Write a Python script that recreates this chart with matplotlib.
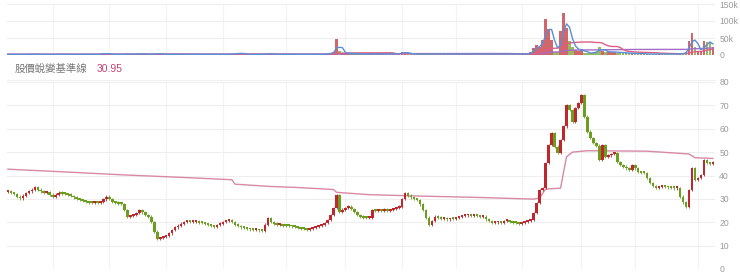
import numpy as np
import pandas as pd
import matplotlib
matplotlib.use("Agg")
import matplotlib.pyplot as plt

# closing prices, one candle per ~2 trading days
closes = [
    33.1, 32.6, 32.0, 31.0, 30.2, 31.4, 32.6, 33.2, 34.0, 35.2,
    34.0, 33.2, 32.4, 32.8, 31.8, 31.0, 31.8, 32.7, 32.2, 32.0,
    31.8, 31.2, 30.6, 30.0, 29.5, 29.2, 28.8, 28.4, 28.1, 28.6,
    28.3, 28.8, 29.8, 31.0, 30.0, 28.8, 28.4, 28.0, 27.8, 25.3,
    22.4, 22.8, 23.0, 24.0, 25.3, 24.2, 23.2, 22.4, 20.2, 16.0,
    12.7, 13.4, 13.8, 14.1, 15.2, 16.7, 17.8, 18.6, 19.4, 20.2,
    20.6, 20.0, 20.2, 20.4, 19.8, 19.6, 19.2, 18.8, 18.4, 18.1,
    18.8, 19.4, 20.0, 20.6, 21.0, 20.2, 19.0, 18.4, 17.8, 17.4,
    17.2, 16.9, 16.7, 16.8, 16.5, 16.3, 19.0, 21.7, 20.2, 19.4,
    18.8, 18.9, 18.6, 18.5, 18.4, 18.2, 17.9, 17.6, 17.3, 17.0,
    16.7, 17.1, 17.6, 18.0, 18.4, 18.8, 19.6, 21.0, 23.0, 26.0,
    31.5, 24.5, 25.4, 26.2, 26.7, 25.6, 24.4, 23.2, 22.4, 22.0,
    21.8, 22.0, 25.3, 25.0, 25.2, 24.8, 25.4, 25.0, 25.3, 25.8,
    26.2, 26.7, 30.0, 32.4, 31.4, 30.6, 30.0, 29.5, 27.6, 25.3,
    22.0, 18.8, 20.6, 22.4, 22.0, 21.6, 21.8, 21.2, 21.5, 21.3,
    21.8, 22.2, 22.6, 22.9, 23.1, 22.8, 23.0, 22.6, 22.3, 22.4,
    21.2, 20.4, 19.6, 19.9, 20.1, 19.8, 20.4, 20.6, 20.2, 19.8,
    19.6, 19.4, 19.6, 20.0, 20.4, 21.0, 24.0, 28.2, 33.8, 34.7,
    45.3, 53.0, 58.2, 52.4, 49.6, 55.2, 61.0, 70.0, 68.0, 63.0,
    68.9, 71.0, 74.5, 65.2, 58.8, 56.0, 54.0, 52.8, 46.5, 53.0,
    48.0, 48.6, 49.2, 49.6, 45.9, 44.6, 43.8, 43.0, 42.4, 44.5,
    43.0, 41.6, 41.2, 41.0, 38.8, 36.8, 35.6, 34.7, 35.0, 35.5,
    35.2, 34.9, 34.7, 34.5, 34.7, 31.0, 28.5, 26.7, 33.8, 43.0,
    38.1, 39.0, 40.2, 46.6, 45.3, 44.8, 45.5,
]

# volume in thousands of shares
volumes = [
    2, 2, 2, 1, 2, 2, 2, 2, 3, 2,
    2, 2, 2, 2, 1, 2, 2, 2, 2, 2,
    2, 2, 1, 2, 2, 2, 2, 2, 2, 2,
    2, 3, 5, 4, 2, 2, 2, 2, 2, 3,
    3, 2, 2, 3, 4, 3, 2, 2, 3, 4,
    4, 3, 2, 2, 2, 2, 2, 2, 2, 2,
    2, 2, 2, 2, 2, 2, 2, 2, 2, 2,
    2, 2, 2, 2, 3, 3, 4, 6, 4, 3,
    2, 2, 2, 2, 2, 2, 3, 4, 3, 2,
    2, 2, 2, 2, 2, 2, 2, 2, 2, 2,
    2, 2, 2, 2, 2, 2, 3, 4, 6, 10,
    46, 12, 6, 5, 5, 4, 4, 3, 3, 3,
    3, 3, 4, 3, 3, 3, 3, 3, 3, 3,
    3, 5, 9, 7, 4, 3, 3, 3, 3, 3,
    3, 4, 3, 3, 3, 3, 3, 3, 3, 3,
    3, 3, 3, 3, 3, 3, 3, 3, 3, 3,
    3, 3, 3, 3, 3, 3, 3, 3, 3, 3,
    3, 3, 3, 3, 4, 8, 20, 30, 25, 45,
    105, 75, 45, 10, 8, 70, 125, 80, 40, 25,
    15, 12, 18, 6, 5, 6, 9, 10, 25, 12,
    8, 9, 10, 8, 7, 8, 6, 6, 5, 5,
    4, 4, 4, 3, 3, 3, 3, 3, 3, 3,
    3, 3, 3, 3, 3, 3, 6, 10, 42, 65,
    25, 10, 12, 42, 38, 35, 25,
]

# price transformation base line (candle index, price)
base_idx = [0, 18, 38, 58, 75, 76, 88, 98, 109, 110, 121, 138, 158, 176,
            178, 180, 185, 187, 189, 194, 214, 228, 230, 236]
base_val = [42.7, 41.6, 40.3, 39.2, 38.2, 36.3, 35.3, 34.8, 34.0, 32.8, 31.8,
            31.2, 30.6, 29.9, 30.4, 34.2, 34.6, 48.0, 50.0, 50.6, 50.4, 49.2,
            47.6, 47.3]

# month boundaries (candle index)
month_idx = [15, 34, 53, 72, 93, 113, 132, 150, 172, 192, 210, 231]

price_ticks = [0, 10, 20, 30, 40, 50, 60, 70, 80]
vol_ticks = [0, 50, 100, 150]
vol_labels = ["0", "50k", "100k", "150k"]
label_name = "股價蛻變基準線"
label_value = "30.95"

UP = "#c0262c"
DOWN = "#6a9e1f"
GRID = "#eeeeee"
TICK = "#9a9a9a"

closes = np.array(closes)
opens = np.concatenate([[closes[0]], closes[:-1]])
x = np.arange(len(closes))
up = closes >= opens
colors = np.where(up, UP, DOWN)

vol = pd.Series(volumes, dtype=float)
ma_fast = vol.rolling(3, min_periods=1).mean()
ma_mid = vol.rolling(20, min_periods=1).mean()
ma_slow = vol.rolling(60, min_periods=1).mean()

fig = plt.figure(figsize=(7.4, 2.75), dpi=100)
W, H = 740.0, 275.0
left = 7 / W
width = 708 / W
xlim = (-0.3, len(closes) - 0.3)

# volume panel
axv = fig.add_axes([left, 1 - 55 / H, width, 51 / H])
axv.bar(x, vol, width=0.8, color=colors, alpha=0.7, zorder=2)
axv.plot(x, ma_slow, color="#a46cc4", lw=1.0, zorder=3)
axv.plot(x, ma_mid, color="#dd5f82", lw=1.0, zorder=4)
axv.plot(x, ma_fast, color="#5a8fd8", lw=1.0, zorder=5)
axv.set_ylim(0, 150)
axv.set_yticks(vol_ticks)
axv.set_yticklabels(vol_labels)

# price panel
axp = fig.add_axes([left, 1 - 269 / H, width, 187 / H])
lo = np.minimum(opens, closes)
hi = np.maximum(opens, closes)
axp.vlines(x, lo - 0.5, hi + 0.5, color=colors, lw=0.6, zorder=3)
body = np.maximum(hi - lo, 0.8)
axp.bar(x, body, bottom=lo, width=0.85, color=colors, zorder=3)
axp.plot(base_idx, base_val, color="#d889a6", lw=1.0, zorder=2)
axp.set_ylim(0, 80)
axp.set_yticks(price_ticks)

for ax in (axv, axp):
    ax.set_xlim(*xlim)
    ax.set_xticks([])
    for s in ax.spines.values():
        s.set_visible(False)
    ax.yaxis.tick_right()
    ax.tick_params(axis="y", length=0, pad=3, labelsize=6.2, labelcolor=TICK)
    for t in ax.get_yticklabels():
        t.set_family("Liberation Sans")
    ax.grid(axis="y", color=GRID, lw=0.8, zorder=0)
    for m in month_idx:
        ax.axvline(m, color="#f3f3f3", lw=0.8, zorder=0)

fig.text(15 / W, 1 - 69 / H, label_name, fontsize=7.5, color="#777777",
         va="center", family=["Noto Sans CJK TC", "DejaVu Sans"])
fig.text(97 / W, 1 - 69 / H, label_value, fontsize=7.5, color="#c2416f",
         va="center", family="Liberation Sans")
fig.add_artist(plt.Line2D([left, left + width], [1 - 80 / H, 1 - 80 / H],
                          color="#f0f0f0", lw=0.8))

fig.savefig("out.png", dpi=100)
